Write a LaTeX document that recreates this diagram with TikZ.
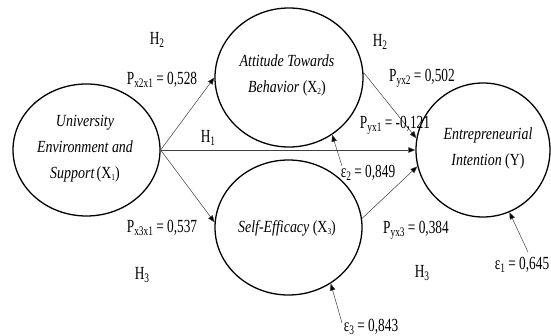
\documentclass[tikz,border=0pt]{standalone}
\usepackage{fontspec}
\setmainfont{Liberation Serif}
\usetikzlibrary{shapes.geometric,arrows.meta}
\newcommand{\lsub}[1]{\raisebox{-0.3ex}{\fontsize{13}{13}\selectfont #1}}
\newcommand{\esub}[1]{\raisebox{-0.25ex}{\fontsize{9}{9}\selectfont #1}}
\begin{document}
\begin{tikzpicture}[x=1pt,y=-1pt,
  latent/.style={draw, ellipse, line width=1.3pt, inner sep=0pt},
  lbl/.style={font=\fontsize{18.5}{20}\selectfont, xscale=0.72, inner sep=0pt},
  etxt/.style={font=\fontsize{17}{26}\selectfont\itshape, xscale=0.82, align=center, inner sep=0pt},
  rel/.style={draw=black!75, line width=0.5pt, -{Triangle[length=7pt,width=5.5pt,fill=black]}}
]
\useasboundingbox (0,0) rectangle (551,336);
\fill[white] (0,0) rectangle (551,336);
% latent variables
\node[latent, minimum width=147pt, minimum height=132pt] (x1) at (86.5,150) {};
\node[latent, minimum width=148pt, minimum height=139pt] (x2) at (289,77.5) {};
\node[latent, minimum width=147pt, minimum height=135pt] (x3) at (288.5,227.5) {};
\node[latent, minimum width=134pt, minimum height=134pt] (y) at (483,150) {};
% texts
\node[etxt] (t1) at (85,149) {University\\Environment and\\Support\,{\upshape(X\esub{1})}};
\node[etxt] (t2) at (287,75) {Attitude Towards\\Behavior {\upshape(X\esub{2})}};
\node[etxt] (t3) at (287,228) {Self-Efficacy {\upshape(X\esub{3})}};
\node[etxt] (t4) at (488,148) {Entrepreneurial\\Intention {\upshape(Y)}};
% paths
\draw[rel] (x1.east) -- (x2.west);
\draw[rel] (x1.east) -- (y.west);
\draw[rel] (x1.east) -- (x3.176);
\draw[rel] (x2.4) -- (y.170);
\draw[rel] (x3.7) -- (y.194);
% error terms
\coordinate (e2s) at (342,166);
\coordinate (e3s) at (342,323);
\coordinate (e1s) at (528,252);
\draw[rel] (e2s) -- (x2.-53);
\draw[rel] (e3s) -- (x3.-53);
\draw[rel] (e1s) -- (y.-67);
% labels
\node[lbl] (h2a) at (157,40) {H\lsub{2}};
\node[lbl] (p21) at (162,80) {P\lsub{x2x1} = 0,528};
\node[lbl] (h1) at (208,138) {H\lsub{1}};
\node[lbl] (p31) at (162,228) {P\lsub{x3x1} = 0,537};
\node[lbl] (h3a) at (142,275) {H\lsub{3}};
\node[lbl] (h2b) at (380,42) {H\lsub{2}};
\node[lbl] (py2) at (422,78) {P\lsub{yx2} = 0,502};
\node[lbl] (py1) at (395,125) {P\lsub{yx1} = -0,121};
\node[lbl] (py3) at (416,230) {P\lsub{yx3} = 0,384};
\node[lbl] (h3b) at (422,273) {H\lsub{3}};
\node[lbl] (e2) at (368,173) {ε\lsub{2} = 0,849};
\node[lbl] (e3) at (371,327) {ε\lsub{3} = 0,843};
\node[lbl] (e1) at (522,265) {ε\lsub{1} = 0,645};
\end{tikzpicture}
\end{document}
